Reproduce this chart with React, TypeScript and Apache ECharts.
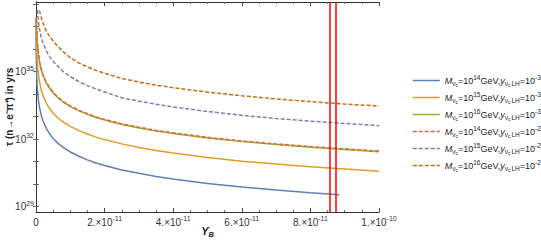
import React, { useEffect, useRef } from "react";
import * as echarts from "echarts";

// x values are Y_B in units of 1e-11; y values are log10(tau / yrs)
const blueX = [0.001, 0.003, 0.01, 0.02, 0.04, 0.07, 0.1, 0.15, 0.2, 0.3, 0.4, 0.5, 0.65, 0.8, 1, 1.25, 1.5, 1.75, 2, 2.5, 3, 3.5, 4, 5, 6, 7, 8, 8.84];
const blueY = [37.43, 36.5, 35.43, 34.83, 34.23, 33.74, 33.43, 33.08, 32.83, 32.48, 32.23, 32.03, 31.8, 31.62, 31.43, 31.24, 31.08, 30.94, 30.83, 30.63, 30.48, 30.34, 30.23, 30.03, 29.87, 29.74, 29.62, 29.53];

const orangeX = [0.004, 0.01, 0.02, 0.04, 0.07, 0.1, 0.15, 0.2, 0.3, 0.4, 0.5, 0.65, 0.8, 1, 1.25, 1.5, 1.75, 2, 2.5, 3, 3.5, 4, 5, 6, 7, 8, 9, 10];
const orangeY = [37.4, 36.55, 35.96, 35.36, 34.88, 34.56, 34.2, 33.96, 33.6, 33.35, 33.15, 32.93, 32.76, 32.57, 32.38, 32.23, 32.09, 31.98, 31.79, 31.63, 31.5, 31.38, 31.18, 31.02, 30.89, 30.77, 30.67, 30.57];

const greenX = [0.012, 0.02, 0.04, 0.07, 0.1, 0.15, 0.2, 0.3, 0.4, 0.5, 0.65, 0.8, 1, 1.25, 1.5, 1.75, 2, 2.5, 3, 3.5, 4, 5, 6, 7, 8, 9, 10];
const greenY = [37.3, 36.85, 36.25, 35.76, 35.45, 35.1, 34.85, 34.5, 34.25, 34.05, 33.82, 33.64, 33.45, 33.26, 33.1, 32.96, 32.85, 32.65, 32.5, 32.36, 32.25, 32.05, 31.89, 31.76, 31.64, 31.54, 31.44];

const redX = [0.012, 0.02, 0.04, 0.07, 0.1, 0.15, 0.2, 0.3, 0.4, 0.5, 0.65, 0.8, 1, 1.25, 1.5, 1.75, 2, 2.5, 3, 3.5, 4, 5, 6, 7, 8, 9, 10];
const redY = [37.33, 36.88, 36.28, 35.79, 35.48, 35.13, 34.88, 34.53, 34.28, 34.08, 33.85, 33.67, 33.48, 33.29, 33.13, 32.99, 32.88, 32.68, 32.53, 32.39, 32.28, 32.08, 31.92, 31.79, 31.67, 31.57, 31.47];

const purpleX = [0.04, 0.07, 0.1, 0.15, 0.2, 0.3, 0.4, 0.5, 0.65, 0.8, 1, 1.25, 1.5, 1.75, 2, 2.5, 3, 3.5, 4, 5, 6, 7, 8, 9, 10];
const purpleY = [37.75, 37.24, 36.92, 36.55, 36.29, 35.93, 35.67, 35.47, 35.22, 35.0, 34.78, 34.56, 34.38, 34.23, 34.1, 33.84, 33.69, 33.55, 33.43, 33.23, 33.06, 32.92, 32.8, 32.7, 32.6];

const darkX = [0.1, 0.15, 0.2, 0.3, 0.4, 0.5, 0.65, 0.8, 1, 1.25, 1.5, 1.75, 2, 2.5, 3, 3.5, 4, 5, 6, 7, 8, 9, 10];
const darkY = [37.72, 37.43, 37.17, 36.81, 36.56, 36.36, 36.11, 35.88, 35.62, 35.39, 35.21, 35.06, 34.93, 34.7, 34.54, 34.4, 34.29, 34.09, 33.93, 33.79, 33.67, 33.56, 33.47];

const redLines = [8.56, 8.73];

const xTickLabels = [0, 2, 4, 6, 8, 10];
const yLabelExps = [29, 32, 35];
const yTickExps = [29, 30, 31, 32, 33, 34, 35, 36, 37, 38];

const seriesNames = ["s1", "s2", "s3", "s4", "s5", "s6"];
const massExps = ["14", "15", "16", "14", "15", "16"];
const yukExps = ["-3", "-3", "-3", "-2", "-2", "-2"];
const colors = ["#5E81B5", "#E19C24", "#8FB032", "#EB6235", "#8778B3", "#C56E1A"];
const dashed = [false, false, false, true, true, true];

const zip = (xs: number[], ys: number[]) => xs.map((x, i) => [x, ys[i]]);
const seriesData = [
  zip(blueX, blueY),
  zip(orangeX, orangeY),
  zip(greenX, greenY),
  zip(redX, redY),
  zip(purpleX, purpleY),
  zip(darkX, darkY),
];

const FONT = "Liberation Sans";

export default function App() {
  const ref = useRef<HTMLDivElement>(null);
  useEffect(() => {
    document.body.style.margin = "0";
    if (!ref.current) return;
    const chart = echarts.init(ref.current, null, { renderer: "svg" });
    const supRich = {
      b: { fontSize: 10, lineHeight: 14, fontFamily: FONT, color: "#333" },
      s: { fontSize: 7, lineHeight: 7, verticalAlign: "top", fontFamily: FONT, color: "#333" },
    };
    const legendRich = {
      i: { fontSize: 9, lineHeight: 13, fontStyle: "italic", fontFamily: FONT, color: "#222" },
      n: { fontSize: 9, lineHeight: 13, fontFamily: FONT, color: "#222" },
      sub: { fontSize: 6.5, lineHeight: 7, verticalAlign: "bottom", fontFamily: FONT, color: "#222" },
      subl: { fontSize: 6.5, lineHeight: 7, verticalAlign: "bottom", fontFamily: FONT, color: "#222", padding: [0, 0, 0, 1] },
      sc: { fontSize: 5, lineHeight: 9, verticalAlign: "bottom", fontFamily: FONT, color: "#222" },
      sup: { fontSize: 6.5, lineHeight: 7, verticalAlign: "top", fontFamily: FONT, color: "#222" },
    };
    const axisLine = { show: true, lineStyle: { color: "#333", width: 1 } };
    const xCommon = {
      type: "value",
      min: 0,
      max: 10,
      interval: 2,
      splitLine: { show: false },
      axisLine,
      axisTick: { inside: true, length: 4, lineStyle: { color: "#444" } },
      minorTick: { show: true, splitNumber: 4, length: 2, lineStyle: { color: "#666" } },
    };
    const yCommon = {
      type: "value",
      min: 28.76,
      max: 38.1,
      splitLine: { show: false },
      axisLine,
      axisTick: { inside: true, length: 3, customValues: yTickExps, lineStyle: { color: "#666" } },
    };
    const option: any = {
      animation: false,
      grid: { left: 36, right: 162, top: 2, bottom: 31, containLabel: false, outerBoundsMode: "none" },
      legend: {
        orient: "vertical",
        left: 407,
        top: 69,
        itemWidth: 27,
        itemHeight: 10,
        itemGap: 4,
        data: seriesNames,
        itemStyle: { opacity: 0 },
        lineStyle: { width: 1.5 },
        textStyle: { rich: legendRich },
        formatter: (name: string) => {
          const k = seriesNames.indexOf(name);
          return `{i|M}{sub|ν}{sc|c}{n|=10}{sup|${massExps[k]}}{n|GeV,}{i|y}{sub|ν}{sc|c}{subl|LH}{n|=10}{sup|${yukExps[k]}}`;
        },
      },
      xAxis: [
        {
          ...xCommon,
          position: "bottom",
          name: "{y|Y}{b|B}",
          nameLocation: "middle",
          nameGap: 12,
          nameMoveOverlap: false,
          nameTextStyle: {
            rich: {
              y: { fontSize: 11, fontWeight: "bold", fontStyle: "italic", fontFamily: FONT, color: "#222", lineHeight: 14 },
              b: { fontSize: 7.5, fontWeight: "bold", fontStyle: "italic", fontFamily: FONT, color: "#222", lineHeight: 7, verticalAlign: "bottom" },
            },
          },
          axisLabel: {
            margin: 3,
            customValues: xTickLabels,
            formatter: (v: number) => {
              if (v === 0) return "{b|0}";
              if (v === 10) return "{b|1.×10}{s|-10}";
              return `{b|${v}.×10}{s|-11}`;
            },
            rich: supRich,
          },
        },
        {
          ...xCommon,
          position: "top",
          axisLabel: { show: false },
        },
      ],
      yAxis: [
        {
          ...yCommon,
          position: "left",
          name: "τ (n→e⁻π⁺) in yrs",
          nameLocation: "middle",
          nameRotate: 90,
          nameGap: 22,
          nameMoveOverlap: false,
          nameTextStyle: { fontSize: 10, fontWeight: "bold", fontFamily: FONT, color: "#222" },
          axisLabel: {
            margin: 2,
            customValues: yLabelExps,
            formatter: (v: number) => `{b|10}{s|${Math.round(v)}}`,
            rich: supRich,
          },
        },
        {
          ...yCommon,
          position: "right",
          axisLabel: { show: false },
        },
      ],
      series: seriesNames.map((name, k) => ({
        name,
        type: "line",
        xAxisIndex: 0,
        yAxisIndex: 0,
        data: seriesData[k],
        showSymbol: false,
        symbol: "none",
        smooth: false,
        color: colors[k],
        lineStyle: { color: colors[k], width: 1.5, type: dashed[k] ? [4, 2] : "solid" },
        ...(k === 0
          ? {
              markLine: {
                silent: true,
                symbol: "none",
                label: { show: false },
                lineStyle: { color: "#FF0000", width: 1.5, type: "solid" },
                data: redLines.map((x) => ({ xAxis: x })),
              },
            }
          : {}),
      })),
    };
    chart.setOption(option);
    return () => chart.dispose();
  }, []);
  return <div ref={ref} style={{ width: 541, height: 243 }} />;
}
